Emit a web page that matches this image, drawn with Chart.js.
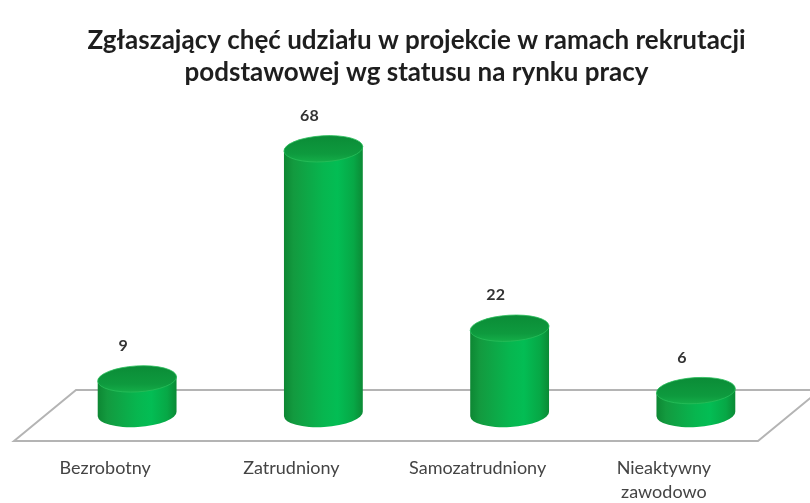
<!DOCTYPE html>
<html><head><meta charset="utf-8">
<script src="https://cdn.jsdelivr.net/npm/chart.js@4.4.0/dist/chart.umd.min.js"></script>
<style>html,body{margin:0;padding:0;background:#fff;overflow:hidden}</style>
</head><body>
<canvas id="c" width="810" height="503" style="width:810px;height:503px;display:block"></canvas>
<script>
const categories = ['Bezrobotny', 'Zatrudniony', 'Samozatrudniony', ['Nieaktywny', 'zawodowo']];
const values = [9, 68, 22, 6];
const titleLines = ['Zgłaszający chęć udziału w projekcie w ramach rekrutacji', 'podstawowej wg statusu na rynku pracy'];
const yMax = 80;

const cylinderPlugin = {
  id: 'cylinders',
  beforeDatasetsDraw(chart) {
    const { ctx, chartArea } = chart;
    const base = chart.scales.y.getPixelForValue(0);
    const backY = base - 24, frontY = base + 27;
    const bl = chartArea.left + 32, fl = chartArea.left - 30;
    const fr = chartArea.right - 31, br = chartArea.right + 31;
    ctx.save();
    ctx.beginPath();
    ctx.moveTo(fl, frontY); ctx.lineTo(bl, backY); ctx.lineTo(br, backY); ctx.lineTo(fr, frontY); ctx.closePath();
    ctx.fillStyle = '#ffffff'; ctx.fill();
    ctx.strokeStyle = '#b4b4b4'; ctx.lineWidth = 2; ctx.stroke();
    ctx.restore();
  },
  afterDatasetsDraw(chart) {
    const { ctx } = chart;
    const meta = chart.getDatasetMeta(0);
    meta.data.forEach((bar, i) => {
      const p = bar.getProps(['x', 'y', 'base', 'width'], true);
      const x = p.x, y = p.y, base = p.base;
      const rx = p.width / 2, ry = 13, rot = -0.06;
      const dx = rx * Math.cos(rot), dy = rx * Math.sin(rot);
      ctx.save();
      const g = ctx.createLinearGradient(x - rx, 0, x + rx, 0);
      g.addColorStop(0, '#0d8733');
      g.addColorStop(0.12, '#139a3f');
      g.addColorStop(0.5, '#07b64f');
      g.addColorStop(0.68, '#03bd54');
      g.addColorStop(0.88, '#07a846');
      g.addColorStop(1, '#0b8a35');
      ctx.beginPath();
      ctx.moveTo(x - dx, y - dy);
      ctx.lineTo(x - dx, base - dy);
      ctx.ellipse(x, base, rx, ry, rot, Math.PI, 0, true);
      ctx.lineTo(x + dx, y + dy);
      ctx.closePath();
      ctx.fillStyle = g;
      ctx.fill();
      const tg = ctx.createLinearGradient(0, y - ry, 0, y + ry);
      tg.addColorStop(0, '#0b8c37');
      tg.addColorStop(0.7, '#0e9a3e');
      tg.addColorStop(1, '#14ad48');
      ctx.beginPath();
      ctx.ellipse(x, y, rx, ry, rot, 0, Math.PI * 2);
      ctx.fillStyle = tg;
      ctx.fill();
      ctx.strokeStyle = 'rgba(40,190,90,0.8)';
      ctx.lineWidth = 1;
      ctx.stroke();
      ctx.fillStyle = '#333333';
      ctx.font = 'bold 16px Lato, "Open Sans", sans-serif';
      ctx.textAlign = 'center';
      ctx.textBaseline = 'middle';
      ctx.fillText(String(values[i]), x - 14, y - 33);
      ctx.restore();
    });
  }
};

new Chart(document.getElementById('c'), {
  type: 'bar',
  data: {
    labels: categories,
    datasets: [{
      data: values,
      backgroundColor: 'rgba(0,0,0,0)',
      borderWidth: 0,
      categoryPercentage: 1,
      barPercentage: 0.424
    }]
  },
  options: {
    responsive: false,
    animation: false,
    devicePixelRatio: 1,
    layout: { padding: { left: 44, right: 21, top: 0, bottom: 0 } },
    plugins: {
      legend: { display: false },
      tooltip: { enabled: false },
      title: {
        display: true,
        text: titleLines,
        color: '#1e1e1e',
        font: { family: 'Lato, "Open Sans", sans-serif', size: 26, weight: 'bold', lineHeight: 1.25 },
        padding: { top: 24, bottom: 13 }
      }
    },
    scales: {
      x: {
        grid: { display: false, drawTicks: false },
        border: { display: false },
        ticks: {
          color: '#444444',
          font: { family: 'Lato, "Open Sans", sans-serif', size: 18, lineHeight: 1.35 },
          padding: 42,
          labelOffset: -32,
          maxRotation: 0,
          autoSkip: false
        },
        afterFit(scale) { scale.height = 89; }
      },
      y: {
        display: false,
        min: 0,
        max: yMax
      }
    }
  },
  plugins: [cylinderPlugin]
});
</script>
</body></html>
